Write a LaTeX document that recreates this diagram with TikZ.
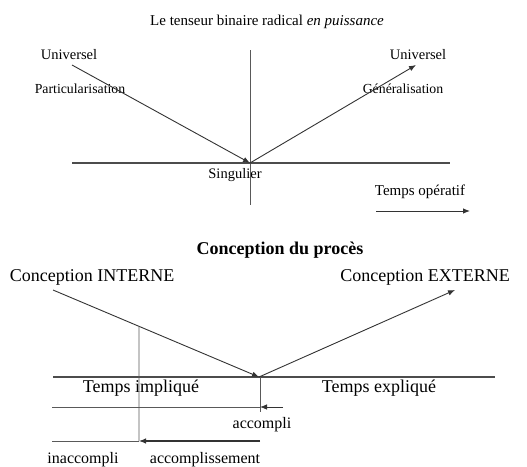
\documentclass[tikz,border=0pt]{standalone}
\usepackage{fontspec}
\setmainfont{Liberation Serif}
\usetikzlibrary{arrows.meta}
\begin{document}
\begin{tikzpicture}[x=1pt,y=-1pt,
  lbl/.style={inner sep=0pt,font=\fontsize{14.5}{16}\selectfont},
  big/.style={inner sep=0pt,font=\fontsize{18}{20}\selectfont},
  small/.style={inner sep=0pt,font=\fontsize{16}{18}\selectfont},
  axis/.style={draw=black!70,line width=1.3pt},
  thin/.style={draw=black!65,line width=0.7pt},
  arr/.style={draw=black!80,line width=0.9pt,-{Latex[length=7pt,width=5.5pt]}}]
\useasboundingbox (0,0) rectangle (527,466);
% ---------- top ----------
\node[lbl,font=\fontsize{15}{17}\selectfont] (title) at (267,22) {Le tenseur binaire radical \textit{en puissance}};
\node[lbl] (uL) at (69,55) {Universel};
\node[lbl] (uR) at (418,55) {Universel};
\node[lbl,font=\fontsize{13.8}{16}\selectfont] (part) at (80,89) {Particularisation};
\node[lbl,font=\fontsize{13.8}{16}\selectfont] (gen) at (403,89) {Généralisation};
\node[lbl] (sing) at (235,175) {Singulier};
\coordinate (vT) at (250,50);
\coordinate (vB) at (250,205);
\coordinate (hL) at (72,163);
\coordinate (hR) at (450,163);
\coordinate (s) at (250,163);
\coordinate (aL) at (72,65);
\coordinate (aR) at (416,65);
\draw[thin] (vT) -- (vB);
\draw[axis] (hL) -- (hR);
\draw[arr] (aL) -- (s);
\draw[arr] (s) -- (aR);
\node[lbl,font=\fontsize{15}{17}\selectfont] (top) at (420,192) {Temps opératif};
\coordinate (t1) at (376,211);
\coordinate (t2) at (470,211);
\draw[arr] (t1) -- (t2);
% ---------- bottom ----------
\node[big,font=\fontsize{18}{20}\selectfont\bfseries] (proc) at (280,250) {Conception du procès};
\node[big] (cint) at (92,277) {Conception INTERNE};
\node[big] (cext) at (425,277) {Conception EXTERNE};
\coordinate (bL) at (53,290);
\coordinate (bR) at (455,290);
\coordinate (p) at (259,377);
\coordinate (h2L) at (53,377);
\coordinate (h2R) at (495,377);
\draw[axis] (h2L) -- (h2R);
\draw[arr] (bL) -- (p);
\draw[arr] (p) -- (bR);
\node[big] (impl) at (141,388) {Temps impliqué};
\node[big] (expl) at (379,388) {Temps expliqué};
% aspect lines
\coordinate (pv) at (260,412);
\draw[thin] (260,377) coordinate (pt) -- (pv);
\coordinate (l1L) at (52,407);
\coordinate (l1R) at (260,407);
\draw[thin] (l1L) -- (l1R);
\coordinate (acS) at (283,407);
\draw[arr,line width=0.8pt] (acS) -- (l1R);
\node[small] (acc) at (262,425) {accompli};
\coordinate (vx) at (139,441);
\coordinate (vtop) at (intersection of bL--p and 139,300--vx);
\draw[thin] (vtop) -- (vx);
\coordinate (l2L) at (52,441);
\coordinate (l2R) at (260,441);
\draw[thin] (l2L) -- (vx);
\draw[arr,line width=1.1pt] (l2R) -- (vx);
\node[small] (inac) at (83,460) {inaccompli};
\node[small] (accs) at (205,460) {accomplissement};
\end{tikzpicture}
\end{document}
